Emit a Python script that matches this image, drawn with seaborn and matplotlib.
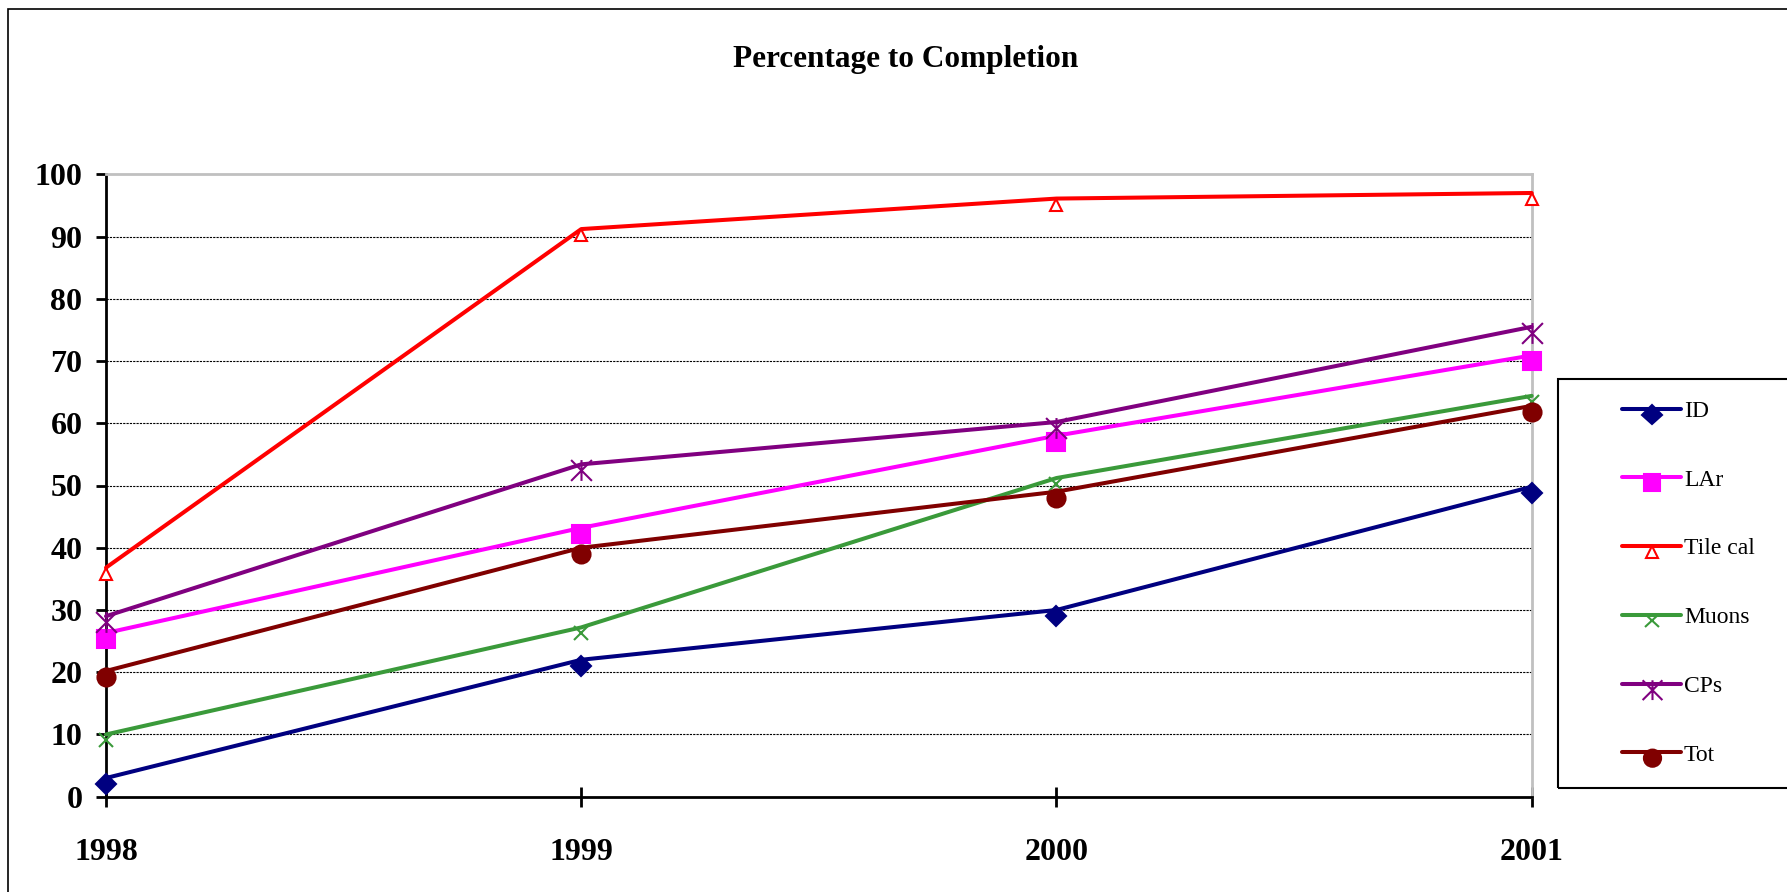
"""
Percentage to Completion chart
"""

import matplotlib
matplotlib.use('Agg')
import matplotlib.pyplot as plt
import seaborn as sns
from matplotlib.markers import MarkerStyle
from matplotlib.path import Path
from matplotlib.patches import Rectangle
from matplotlib.transforms import Affine2D

# Data
years = [1998, 1999, 2000, 2001]
id_vals = [3, 22, 30, 49.8]
lar_vals = [26.3, 43.2, 58, 70.9]
tilecal_vals = [36.8, 91.2, 96.1, 97]
muons_vals = [10, 27.2, 51.2, 64.4]
cps_vals = [29, 53.4, 60.2, 75.5]
tot_vals = [20.2, 40, 49, 62.8]
y_ticks = [0, 10, 20, 30, 40, 50, 60, 70, 80, 90, 100]

sns.set_style("white")
plt.rcParams['font.family'] = ['Liberation Serif', 'DejaVu Serif']
plt.rcParams['text.color'] = 'black'
plt.rcParams['xtick.color'] = 'black'
plt.rcParams['ytick.color'] = 'black'

W, H = 1787, 892
fig = plt.figure(figsize=(W / 100, H / 100), dpi=100)
ax = fig.add_axes([106 / W, 1 - 796.7 / H, (1531.7 - 106) / W, (796.7 - 174.3) / H])

# asterisk-like marker (X with a vertical bar)
star_path = Path([(-1, -1), (1, 1), (-1, 1), (1, -1), (0, -1), (0, 1)],
                 [Path.MOVETO, Path.LINETO] * 3)

SHIFT = 4.3  # markers sit a little below the line, in points


def shifted(marker, ms):
    return MarkerStyle(marker, transform=Affine2D().translate(0, -SHIFT / ms))


series = [
    ('ID', id_vals, '#000080', 'D', 10.5, '#000080'),
    ('LAr', lar_vals, '#FF00FF', 's', 12.5, '#FF00FF'),
    ('Tile cal', tilecal_vals, '#FF0000', '^', 9, 'white'),
    ('Muons', muons_vals, '#3A9A3A', 'x', 10, 'none'),
    ('CPs', cps_vals, '#800080', star_path, 15, 'none'),
    ('Tot', tot_vals, '#800000', 'o', 13, '#800000'),
]

for label, vals, color, marker, ms, face in series:
    sns.lineplot(x=years, y=vals, ax=ax, color=color, linewidth=2.9,
                 marker=shifted(marker, ms), markersize=ms,
                 markerfacecolor=face, markeredgecolor=color,
                 markeredgewidth=1.5, label=label, clip_on=False, zorder=3)

ax.set_xlim(1998, 2001)
ax.set_ylim(0, 100)
ax.set_xticks(years)
ax.set_xticklabels([str(y) for y in years])
ax.set_yticks(y_ticks)

ax.grid(axis='y', color='black', linestyle=(0, (2, 1)), linewidth=0.8)
ax.grid(axis='x', visible=False)
gl = ax.yaxis.get_gridlines()
gl[0].set_visible(False)
gl[-1].set_visible(False)

for side in ['left', 'bottom']:
    ax.spines[side].set_color('black')
    ax.spines[side].set_linewidth(2)
for side in ['top', 'right']:
    ax.spines[side].set_color('#C0C0C0')
    ax.spines[side].set_linewidth(2)

ax.tick_params(axis='y', direction='out', length=7, width=2, color='black',
               pad=10, labelsize=23, left=True)
ax.tick_params(axis='x', direction='inout', length=14, width=2, color='black',
               pad=23, labelsize=23, bottom=True)
for t in ax.get_xticklabels() + ax.get_yticklabels():
    t.set_fontweight('bold')
    t.set_color('black')

fig.text(906 / W, 1 - 60 / H, 'Percentage to Completion', ha='center', va='center',
         fontsize=22.5, fontweight='bold', color='black')

# legend box and outer border
fig.add_artist(Rectangle((1558 / W, 1 - 788 / H), 0.3, (788 - 379) / H,
                         transform=fig.transFigure, fill=False, edgecolor='black',
                         linewidth=1.5))
fig.add_artist(Rectangle((8 / W, -0.1), 1.2, 1.1 - 9 / H,
                         transform=fig.transFigure, fill=False, edgecolor='black',
                         linewidth=1.2))

handles, labels = ax.get_legend_handles_labels()
ax.get_legend().remove()
leg = fig.legend(handles, labels, loc='center left',
                 bbox_to_anchor=(1622 / W, 1 - 583 / H), bbox_transform=fig.transFigure,
                 frameon=False, borderpad=0, borderaxespad=0, fontsize=17,
                 handlelength=2.5, handletextpad=0.12, labelspacing=2.0,
                 markerscale=0.95)
for t in leg.get_texts():
    t.set_color('black')

plt.savefig('out.png', dpi=100)
plt.close()
